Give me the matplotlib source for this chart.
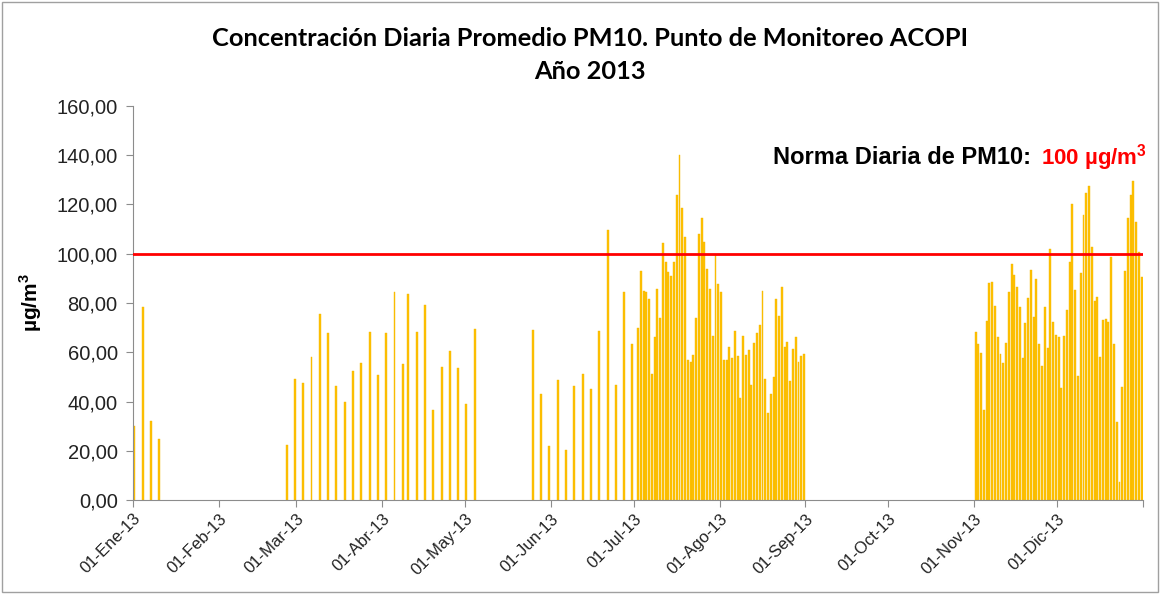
import matplotlib
matplotlib.use("Agg")
import matplotlib.pyplot as plt
from matplotlib.patches import Rectangle

plt.rcParams["font.family"] = ["Liberation Sans", "DejaVu Sans"]
plt.rcParams["mathtext.fontset"] = "custom"
plt.rcParams["mathtext.bf"] = "Liberation Sans:bold"
plt.rcParams["mathtext.rm"] = "Liberation Sans"

# day of year (0 = 01-Ene-13) and daily mean PM10 in ug/m3
jan_days = [0, 3, 6, 9]
jan_vals = [30.2, 78.5, 32.1, 24.6]

spring_days = [55, 58, 61, 64, 67, 70, 73, 76, 79, 82, 85, 88,
               91, 94, 97, 99, 102, 105, 108, 111, 114, 117, 120, 123]
spring_vals = [22.3, 49.3, 47.4, 57.9, 75.5, 67.7, 46.3, 39.9, 52.4, 55.6, 68.1, 50.8,
               67.7, 84.6, 55.2, 83.7, 68.1, 79.3, 36.5, 54.1, 60.5, 53.7, 39.1, 69.4]

june_days = [144, 147, 150, 153, 156, 159, 162, 165, 168, 171, 174, 177, 180]
june_vals = [69.0, 43.0, 21.9, 48.6, 20.2, 46.3, 51.2, 45.2, 68.5, 109.6, 46.7, 84.6, 63.2]

# daily from 02-Jul to 31-Ago
julaug_start = 182
julaug_vals = [69.7, 93.0, 85.0, 84.6, 81.5, 51.0, 66.3, 85.8, 74.0, 104.5,
               96.8, 92.5, 91.1, 96.7, 123.9, 140.1, 118.7, 106.7, 57.0, 55.9,
               58.9, 73.8, 107.9, 114.4, 104.9, 93.8, 85.8, 66.7, 99.5, 87.6,
               84.6, 56.9, 56.9, 62.0, 57.5, 68.8, 58.6, 41.3, 66.6, 58.9,
               60.9, 46.7, 63.9, 67.7, 70.9, 84.9, 49.3, 35.5, 43.0, 50.1,
               81.5, 74.7, 86.6, 62.0, 64.2, 48.5, 61.3, 66.1, 55.9, 58.6, 59.3]

# daily from 01-Nov to 31-Dic
novdic_start = 304
novdic_vals = [68.4, 63.4, 59.8, 36.5, 72.8, 88.0, 88.4, 78.8, 66.3, 59.3,
               55.5, 63.9, 84.6, 95.7, 91.4, 86.6, 78.5, 57.5, 72.0, 82.2,
               93.4, 74.2, 89.6, 63.4, 54.5, 78.5, 61.6, 101.9, 72.4, 67.2,
               66.1, 45.4, 66.7, 77.3, 96.8, 120.1, 85.3, 50.4, 92.3, 115.7,
               124.5, 127.5, 102.6, 80.9, 82.6, 58.2, 73.1, 73.5, 72.2, 98.8,
               63.2, 31.5, 7.4, 46.0, 93.1, 114.4, 123.9, 129.7, 113.0, 100.8, 90.4]

norma = 100
month_starts = [0, 31, 59, 90, 120, 151, 181, 212, 243, 273, 304, 334]
month_labels = ["01-Ene-13", "01-Feb-13", "01-Mar-13", "01-Abr-13", "01-May-13",
                "01-Jun-13", "01-Jul-13", "01-Ago-13", "01-Sep-13", "01-Oct-13",
                "01-Nov-13", "01-Dic-13"]
y_ticks = [0, 20, 40, 60, 80, 100, 120, 140, 160]

days = jan_days + spring_days + june_days
vals = jan_vals + spring_vals + june_vals
days += [julaug_start + i for i in range(len(julaug_vals))]
vals += julaug_vals
days += [novdic_start + i for i in range(len(novdic_vals))]
vals += novdic_vals

fig = plt.figure(figsize=(11.6, 5.94), dpi=100)
ax = fig.add_axes([133 / 1160, 1 - 500 / 594, 1010 / 1160, 394 / 594])

ax.bar([d + 0.5 for d in days], vals, width=0.7, color="#FFC000",
       edgecolor="#F2B705", linewidth=0.3)
ax.axhline(norma, color="#FF0000", linewidth=2.0, zorder=3)

ax.set_xlim(0, 365)
ax.set_ylim(0, 160)
ax.set_yticks(y_ticks)
# comma as decimal separator
ax.set_yticklabels([("%.2f" % v).replace(".", ",") for v in y_ticks], fontsize=14.5)
ax.set_xticks(month_starts + [365])
ax.set_xticklabels(month_labels + [""], rotation=45, ha="right",
                   rotation_mode="anchor", fontsize=12)

for s in ["top", "right"]:
    ax.spines[s].set_visible(False)
for s in ["left", "bottom"]:
    ax.spines[s].set_color("#8C8C8C")
ax.tick_params(axis="both", colors="#8C8C8C", labelcolor="#222222", length=5)
ax.tick_params(axis="y", pad=6)
ax.tick_params(axis="x", pad=3)

ax.set_ylabel(r"µg/m$^{\mathbf{3}}$", fontsize=15, fontweight="bold", labelpad=9)

fig.text(0.509, 0.935, "Concentración Diaria Promedio PM10. Punto de Monitoreo ACOPI",
         ha="center", va="center", fontsize=18.3, fontweight="bold", family="Lato")
fig.text(0.509, 0.880, "Año 2013", ha="center", va="center", fontsize=18.3,
         fontweight="bold", family="Lato")

fig.text(773 / 1160, 1 - 158 / 594, "Norma Diaria de PM10:", ha="left", va="center",
         fontsize=17, fontweight="bold")
fig.text(1041 / 1160, 1 - 158 / 594, r"100 µg/m$^{\mathbf{3}}$", ha="left", va="center",
         fontsize=16, fontweight="bold", color="#FF0000")

fig.patches.append(Rectangle((0.002, 0.003), 0.996, 0.994, transform=fig.transFigure,
                             fill=False, edgecolor="#A0A0A0", linewidth=1))

fig.savefig("out.png", dpi=100)
